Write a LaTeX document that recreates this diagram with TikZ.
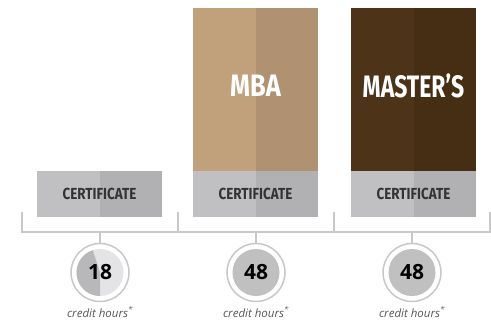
\documentclass[tikz,border=0pt]{standalone}
\usepackage{fontspec}
\setmainfont{Open Sans}
\newfontfamily\condfont{Fira Sans}
\usetikzlibrary{positioning}

\definecolor{certL}{RGB}{192,192,194}
\definecolor{certR}{RGB}{177,177,179}
\definecolor{mbaL}{RGB}{193,161,124}
\definecolor{mbaR}{RGB}{176,146,115}
\definecolor{msL}{RGB}{77,52,24}
\definecolor{msR}{RGB}{69,46,20}
\definecolor{brkgray}{RGB}{200,200,200}
\definecolor{discgray}{RGB}{192,192,192}
\definecolor{disclight}{RGB}{228,228,230}
\definecolor{discdark}{RGB}{184,184,186}
\definecolor{notegray}{RGB}{85,85,85}

% two-tone bar: left x, top y, right x, bottom y, left colour, right colour
\newcommand{\twotone}[6]{%
  \fill[#5] (#1,#2) rectangle ({(#1+#3)/2},#4);
  \fill[#6] ({(#1+#3)/2},#2) rectangle (#3,#4);}

\begin{document}
\begin{tikzpicture}[x=1pt,y=-1pt,
    certtext/.style={text=black!80,font=\condfont\bfseries\fontsize{16}{16}\selectfont},
    bigtext/.style={text=white,font=\condfont\bfseries\fontsize{31}{31}\selectfont},
    ring/.style={circle,draw=brkgray,line width=1.5pt,fill=white,minimum size=58pt,inner sep=0pt},
    disc/.style={circle,fill=discgray,minimum size=47pt,inner sep=0pt},
    hours/.style={font=\bfseries\fontsize{21}{21}\selectfont},
    note/.style={text=notegray,font=\itshape\fontsize{11.5}{11.5}\selectfont},
    brk/.style={draw=brkgray,line width=1.5pt}]
  \useasboundingbox (0,0) rectangle (491,322);

  % bars
  \twotone{193}{8}{318}{171}{mbaL}{mbaR}
  \twotone{351}{8}{476}{171}{msL}{msR}
  \twotone{37}{171}{162}{217}{certL}{certR}
  \twotone{193}{171}{318}{217}{certL}{certR}
  \twotone{351}{171}{476}{217}{certL}{certR}

  \node[bigtext] (mba) at (255.5,86) {\scalebox{0.82}[1]{MBA}};
  \node[bigtext] (masters) at (413.5,86) {\scalebox{0.74}[1]{MASTER’S}};
  \node[certtext] (cert1) at (99.5,194) {\scalebox{0.84}[1]{CERTIFICATE}};
  \node[certtext] (cert2) at (255.5,194) {\scalebox{0.84}[1]{CERTIFICATE}};
  \node[certtext] (cert3) at (413.5,194) {\scalebox{0.84}[1]{CERTIFICATE}};

  % bracket
  \coordinate (b0) at (22,212);
  \coordinate (b1) at (178,212);
  \coordinate (b2) at (334,212);
  \coordinate (b3) at (490,212);
  \draw[brk] (b0) -- ++(0,20) -- ++(468,0) -- (b3);
  \draw[brk] (b1) -- ++(0,20);
  \draw[brk] (b2) -- ++(0,20);

  % credit hour circles
  \node[ring] (ring1) at (100,272.5) {};
  \node[ring] (ring2) at (256,272.5) {};
  \node[ring] (ring3) at (412,272.5) {};
  \foreach \i in {1,2,3}
    \draw[brk] (ring\i.north |- b0) ++(0,20) -- (ring\i.north);

  \node[disc,fill=disclight] (disc1) at (ring1) {};
  \fill[discdark] (disc1.center) -- ++(252:23.5) arc[start angle=252,end angle=90,radius=23.5] -- cycle;
  \node[disc] (disc2) at (ring2) {};
  \node[disc] (disc3) at (ring3) {};
  \node[hours] (num1) at (disc1) {18};
  \node[hours] (num2) at (disc2) {48};
  \node[hours] (num3) at (disc3) {48};

  \node[note,below=1pt of ring1] (note1) {credit hours\textsuperscript{*}};
  \node[note,below=1pt of ring2] (note2) {credit hours\textsuperscript{*}};
  \node[note,below=1pt of ring3] (note3) {credit hours\textsuperscript{*}};
\end{tikzpicture}
\end{document}
